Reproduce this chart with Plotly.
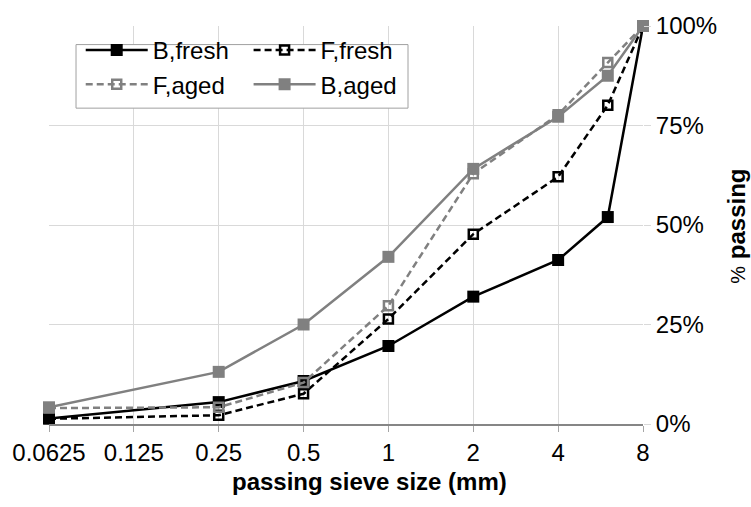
import math
import plotly.graph_objects as go

sieve_mm = [0.0625, 0.25, 0.5, 1, 2, 4, 6, 8]
b_fresh = [1.4, 5.5, 10.8, 19.6, 32.0, 41.2, 52.0, 100]
f_fresh = [1.3, 2.2, 7.6, 26.4, 47.7, 62.1, 80.1, 100]
f_aged = [4.0, 4.2, 10.4, 29.7, 62.9, 77.7, 90.8, 100]
b_aged = [4.2, 13.1, 25.0, 42.0, 64.1, 77.2, 87.5, 100]

x_ticks = [0.0625, 0.125, 0.25, 0.5, 1, 2, 4, 8]
x_tick_text = ["0.0625", "0.125", "0.25", "0.5", "1", "2", "4", "8"]
y_ticks = [0, 25, 50, 75, 100]
y_tick_text = ["0%", "25%", "50%", "75%", "100%"]

BLACK = "#000000"
GRAY = "#808080"
FONT = "Arial, Liberation Sans, sans-serif"

fig = go.Figure()
series = [
    ("B,fresh", b_fresh, BLACK, "solid", "square", 12, "legend"),
    ("F,fresh", f_fresh, BLACK, "7px,4px", "square-open", 9, "legend2"),
    ("F,aged", f_aged, GRAY, "7px,4px", "square-open", 9, "legend"),
    ("B,aged", b_aged, GRAY, "solid", "square", 12, "legend2"),
]
for name, vals, col, dash, sym, size, leg in series:
    fig.add_trace(go.Scatter(
        x=sieve_mm, y=vals, name=name, mode="lines+markers",
        line=dict(color=col, width=2.5, dash=dash),
        marker=dict(symbol=sym, size=size, color=col,
                    line=dict(color=col, width=2.5 if "open" in sym else 0)),
        cliponaxis=False, legend=leg,
    ))

xlo = math.log10(x_ticks[0])
xhi = math.log10(x_ticks[-1])

leg_common = dict(
    orientation="v", yanchor="top", xanchor="left",
    itemwidth=62, bgcolor="rgba(0,0,0,0)", borderwidth=0,
    font=dict(family=FONT, size=24, color="#000000"),
    tracegroupgap=0,
)

fig.update_layout(
    width=751, height=507,
    margin=dict(l=49, r=108, t=17, b=83),
    paper_bgcolor="white", plot_bgcolor="white",
    font=dict(family=FONT, size=24, color="#000000"),
    legend=dict(x=0.0534, y=0.995, **leg_common),
    legend2=dict(x=0.336, y=0.995, **leg_common),
    shapes=[
        dict(type="rect", xref="paper", yref="paper",
             x0=0.0455, x1=0.6044, y0=0.7936, y1=0.9533,
             fillcolor="white", line=dict(color="#a0a0a0", width=1),
             layer="above"),
    ],
    xaxis=dict(
        type="log", range=[xlo - 1e-6, xhi + 1e-6],
        tickvals=x_ticks, ticktext=x_tick_text,
        showgrid=True, gridcolor="#d9d9d9", gridwidth=1,
        showline=True, linecolor="#868686", linewidth=1.5,
        ticks="outside", ticklen=6, tickcolor="#a6a6a6",
        tickfont=dict(family=FONT, size=24, color="#000000"),
        zeroline=False,
    ),
    yaxis=dict(
        side="right", range=[0, 100], tickvals=y_ticks, ticktext=y_tick_text,
        showgrid=True, gridcolor="#d9d9d9", gridwidth=1,
        showline=False, zeroline=False,
        ticks="outside", ticklen=7, tickcolor="#d9d9d9",
        tickfont=dict(family=FONT, size=24, color="#000000"),
    ),
    annotations=[
        dict(text="<b>passing sieve size (mm)</b>", xref="paper", yref="paper",
             x=0.539, y=-0.145, xanchor="center", yanchor="middle",
             showarrow=False, font=dict(family=FONT, size=24, color="#000000")),
        dict(text="<span style='font-size:20px'>%</span> <b>passing</b>",
             xref="paper", yref="paper", x=1.158, y=0.498,
             xanchor="center", yanchor="middle", textangle=-90,
             showarrow=False, font=dict(family=FONT, size=24, color="#000000")),
    ],
)
fig.write_html("out.html")
